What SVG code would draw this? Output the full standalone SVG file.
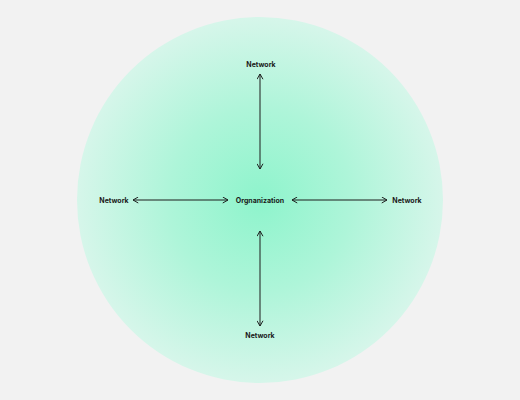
<svg xmlns="http://www.w3.org/2000/svg" width="520" height="400" viewBox="0 0 520 400">
<defs>
<radialGradient id="glow" cx="50%" cy="50%" r="50%">
<stop offset="0" stop-color="#8ef4cc"/>
<stop offset="0.5" stop-color="#aef5d9"/>
<stop offset="1" stop-color="#d6f6ea"/>
</radialGradient>
<marker id="arr" viewBox="0 0 10 10" refX="9" refY="5" markerWidth="7" markerHeight="7" markerUnits="userSpaceOnUse" orient="auto-start-reverse">
<path d="M2,1 L9,5 L2,9" fill="none" stroke="#1c1c1c" stroke-width="1.4" stroke-linecap="round" stroke-linejoin="round"/>
</marker>
</defs>
<style>
.lbl{font-family:Inter,"Liberation Sans",sans-serif;font-size:7px;font-weight:700;fill:#1a1a1a;text-anchor:middle;}
.con{stroke:#1c1c1c;stroke-width:1;fill:none;marker-start:url(#arr);marker-end:url(#arr);}
</style>
<rect width="520" height="400" fill="#f2f2f2"/>
<circle cx="260" cy="200" r="183" fill="url(#glow)"/>
<g id="connectors">
<line class="con" x1="260" y1="74" x2="260" y2="169"/>
<line class="con" x1="260" y1="231" x2="260" y2="326"/>
<line class="con" x1="133" y1="200" x2="228" y2="200"/>
<line class="con" x1="292" y1="200" x2="387" y2="200"/>
</g>
<g id="organization"><text class="lbl" x="260" y="202.5">Orgnanization</text></g>
<g id="network-top"><text class="lbl" x="261" y="66.5">Network</text></g>
<g id="network-bottom"><text class="lbl" x="260" y="337.5">Network</text></g>
<g id="network-left"><text class="lbl" x="114" y="202.5">Network</text></g>
<g id="network-right"><text class="lbl" x="407" y="202.5">Network</text></g>
</svg>
